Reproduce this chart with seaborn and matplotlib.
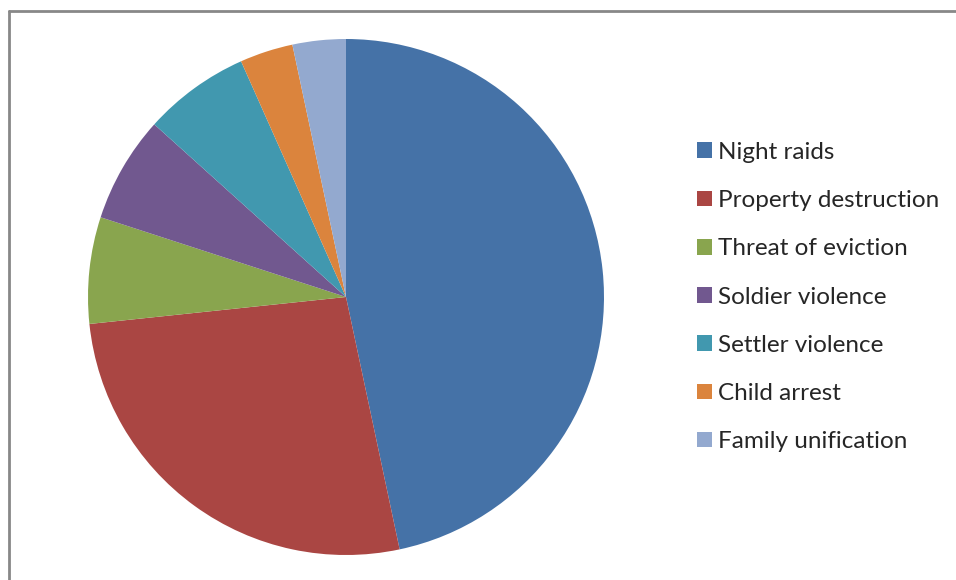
import matplotlib.pyplot as plt
import seaborn as sns
from matplotlib.patches import Patch
from matplotlib.lines import Line2D

# dados
categorias = ['Night raids', 'Property destruction', 'Threat of eviction',
              'Soldier violence', 'Settler violence', 'Child arrest',
              'Family unification']
valores = [14, 8, 2, 2, 2, 1, 1]
cores = ['#4572A7', '#AA4643', '#89A54E', '#71588F', '#4198AF', '#DB843D', '#93A9CF']

sns.set_theme(style='white')
plt.rcParams['font.family'] = ['Lato', 'DejaVu Sans']

fig = plt.figure(figsize=(9.56, 5.8), dpi=100)
ax = fig.add_axes([88 / 956, (580 - 297 - 258) / 580, 516 / 956, 516 / 580])

ax.pie(valores, colors=cores, startangle=90, counterclock=False,
       radius=1, wedgeprops={'linewidth': 0})
ax.set_xlim(-1, 1)
ax.set_ylim(-1, 1)
ax.set_aspect('equal')
ax.axis('off')

# moldura (só topo e esquerda aparecem)
fig.add_artist(Line2D([9 / 956, 9 / 956], [0, 1 - 10.5 / 580], color='#888888', lw=2,
                      transform=fig.transFigure))
fig.add_artist(Line2D([9 / 956, 1], [1 - 10.5 / 580, 1 - 10.5 / 580], color='#888888', lw=2,
                      transform=fig.transFigure))

handles = [Patch(facecolor=c, edgecolor='none') for c in cores]
fig.legend(handles, categorias, loc='center left',
           bbox_to_anchor=(697 / 956, 1 - 297 / 580), frameon=False,
           fontsize=17.5, handlelength=0.62, handleheight=0.62,
           handletextpad=0.23, labelspacing=1.12, borderaxespad=0,
           borderpad=0)

fig.savefig('out.png', dpi=100)
